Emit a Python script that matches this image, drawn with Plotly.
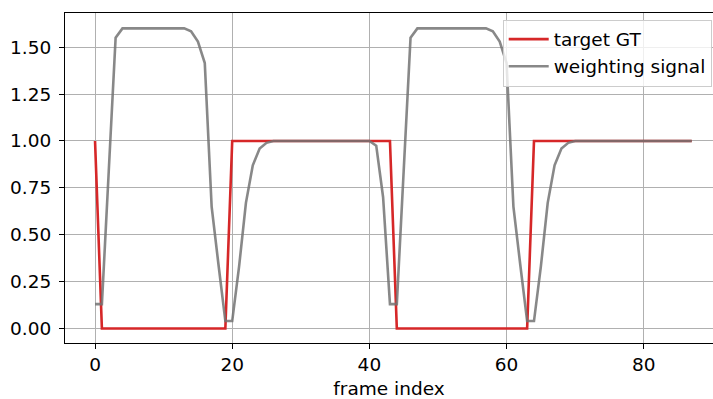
import plotly.graph_objects as go

frames = list(range(88))

target_gt = [
    1,
    0, 0, 0, 0, 0, 0, 0, 0, 0, 0, 0, 0, 0, 0, 0, 0, 0, 0, 0,
    1, 1, 1, 1, 1, 1, 1, 1, 1, 1, 1, 1, 1, 1, 1, 1, 1, 1, 1, 1, 1, 1, 1, 1,
    0, 0, 0, 0, 0, 0, 0, 0, 0, 0, 0, 0, 0, 0, 0, 0, 0, 0, 0, 0,
    1, 1, 1, 1, 1, 1, 1, 1, 1, 1, 1, 1, 1, 1, 1, 1, 1, 1, 1, 1, 1, 1, 1, 1,
]

weighting_signal = [
    0.13, 0.13, 0.84, 1.55,
    1.60, 1.60, 1.60, 1.60, 1.60, 1.60, 1.60, 1.60, 1.60, 1.60,
    1.585, 1.53, 1.415, 0.65, 0.34, 0.04, 0.04,
    0.33, 0.67, 0.87, 0.96, 0.99,
    1.00, 1.00, 1.00, 1.00, 1.00, 1.00, 1.00, 1.00, 1.00, 1.00, 1.00, 1.00, 1.00, 1.00, 1.00,
    0.975, 0.70, 0.13, 0.13, 0.84, 1.55,
    1.60, 1.60, 1.60, 1.60, 1.60, 1.60, 1.60, 1.60, 1.60, 1.60, 1.60,
    1.585, 1.53, 1.415, 0.65, 0.34, 0.04, 0.04,
    0.33, 0.67, 0.87, 0.96, 0.99,
    1.00, 1.00, 1.00, 1.00, 1.00, 1.00, 1.00, 1.00, 1.00, 1.00, 1.00, 1.00, 1.00, 1.00, 1.00, 1.00, 1.00, 1.00,
]

x_ticks = [0, 20, 40, 60, 80]
y_ticks = [0.0, 0.25, 0.5, 0.75, 1.0, 1.25, 1.5]

FONT = "DejaVu Sans"
FS = 18.5

fig = go.Figure()
fig.add_trace(go.Scatter(
    x=frames, y=target_gt, mode="lines", name="target GT",
    line=dict(color="#d62728", width=2.6),
))
fig.add_trace(go.Scatter(
    x=frames, y=weighting_signal, mode="lines", name="weighting signal",
    line=dict(color="rgba(115,115,115,0.85)", width=2.6),
))

axis_common = dict(
    showgrid=True, gridcolor="#b0b0b0", gridwidth=1.4,
    showline=True, linecolor="black", linewidth=1.2,
    ticks="outside", ticklen=5, tickwidth=1.2, tickcolor="black",
    zeroline=False, automargin=False,
    tickfont=dict(family=FONT, size=FS, color="black"),
)

fig.update_xaxes(
    range=[-4.38, 90.1], tickvals=x_ticks, mirror=True,
    title=dict(text="frame index", font=dict(family=FONT, size=FS, color="black"), standoff=15),
    **axis_common,
)
fig.update_yaxes(
    range=[-0.077, 1.682], tickvals=y_ticks, tickformat=".2f", mirror=False,
    ticklabelstandoff=4,
    **axis_common,
)

fig.update_layout(
    width=713, height=399,
    margin=dict(l=65, r=0, t=13, b=56),
    plot_bgcolor="white", paper_bgcolor="white",
    font=dict(family=FONT, size=FS, color="black"),
    legend=dict(
        x=0.998, y=0.98, xanchor="right", yanchor="top",
        bgcolor="rgba(255,255,255,0.8)", bordercolor="#cccccc", borderwidth=1,
        font=dict(family=FONT, size=FS, color="black"),
        itemwidth=40,
    ),
    showlegend=True,
)

fig.write_html(
    "out.html",
    config={"displayModeBar": False},
    post_script="document.body.style.margin='0';document.body.style.overflow='hidden';",
)
